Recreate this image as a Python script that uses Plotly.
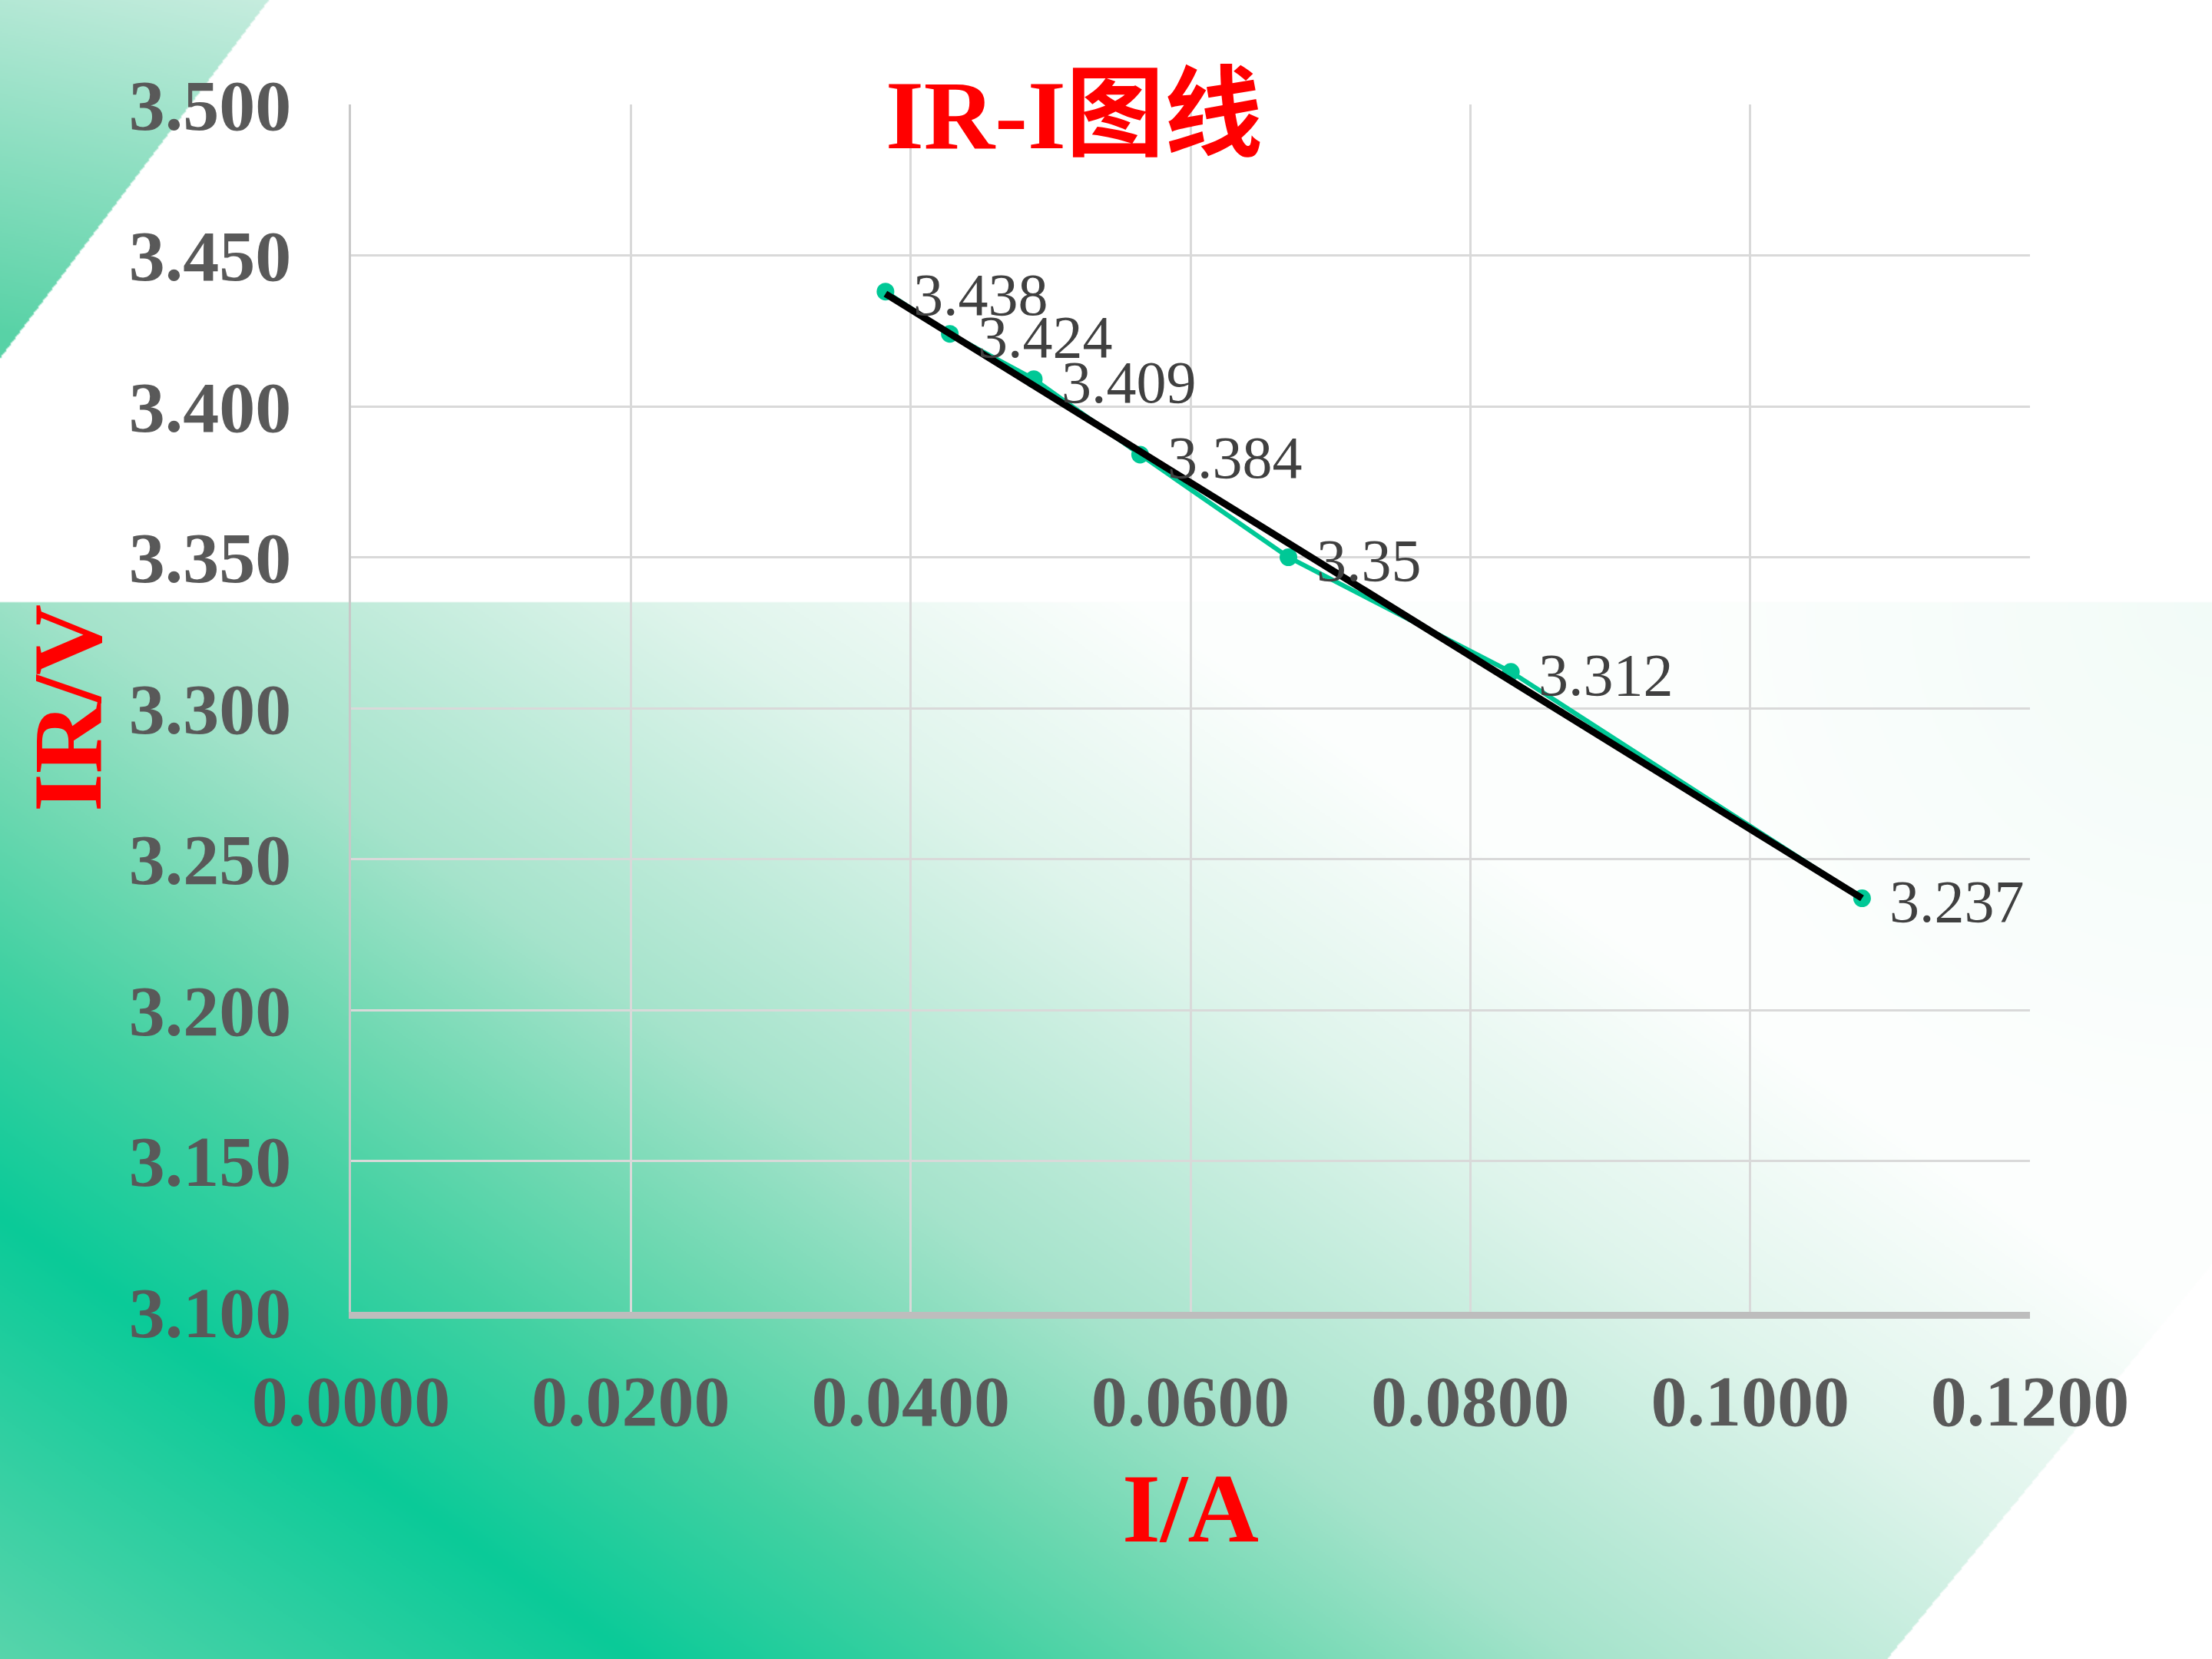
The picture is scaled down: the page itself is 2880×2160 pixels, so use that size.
import numpy as np
import zlib, struct, base64
import plotly.graph_objects as go

# ---------------- data ----------------
current_A = [0.0382, 0.0428, 0.0488, 0.0564, 0.0670, 0.0829, 0.1080]
ir_V = [3.438, 3.424, 3.409, 3.384, 3.35, 3.312, 3.237]
point_labels = ["3.438", "3.424", "3.409", "3.384", "3.35", "3.312", "3.237"]
x_ticks = [0.0, 0.02, 0.04, 0.06, 0.08, 0.10, 0.12]
y_ticks = [3.10, 3.15, 3.20, 3.25, 3.30, 3.35, 3.40, 3.45, 3.50]
title_text = "IR-I图线"
x_title = "I/A"
y_title = "IR/V"

# ---------------- figure geometry ----------------
FW, FH = 2880, 2160
ML, MR, MT, MB = 457, 237, 136, 452
PW, PH = FW - ML - MR, FH - MT - MB

GREEN = "#00C896"

# ---------------- decorative background (gradient shapes) ----------------
def make_background(w=1440, h=1080):
    s = FW / w
    yy, xx = np.mgrid[0:h, 0:w].astype(float)
    X = (xx + 0.5) * s
    Y = (yy + 0.5) * s
    img = np.full((h, w, 3), 255.0)
    # lower band with diagonal gradient
    t = (X * 0.57 - Y * 0.82) + 1300.0
    st = [-700, 0, 270, 460, 700, 1150, 1500]
    sc = [(125, 217, 180), (10, 202, 152), (66, 209, 162), (110, 216, 177),
          (165, 227, 203), (222, 244, 235), (252, 254, 253)]
    band = np.stack([np.interp(t, st, [c[k] for c in sc]) for k in range(3)], axis=-1)
    # faint tint toward the upper-right corner of the band
    d = np.hypot(X - 2880, Y - 784)
    tint = np.clip(1 - d / 700.0, 0, 1) * 0.10
    band = band * (1 - tint[..., None]) + np.array([150, 225, 196.0]) * tint[..., None]
    x_edge = 2880 - (Y - 1645) * (423.0 / 515.0)
    m = (Y >= 784) & (X <= x_edge)
    img[m] = band[m]
    # top-left triangle
    tri = (X / 350.0 + Y / 467.0) <= 1.0
    f = np.clip((Y + 0.25 * (350 - X)) / 520.0, 0, 1)
    top = np.array([198, 236, 222.0])
    bot = np.array([88, 210, 166.0])
    tcol = top[None, None, :] + (bot - top)[None, None, :] * f[..., None]
    img[tri] = tcol[tri]
    arr = np.clip(img + 0.5, 0, 255).astype(np.uint8)
    raw = np.zeros((h, w * 3 + 1), dtype=np.uint8)
    raw[:, 1:] = arr.reshape(h, -1)

    def chunk(tag, data):
        return (struct.pack(">I", len(data)) + tag + data +
                struct.pack(">I", zlib.crc32(tag + data) & 0xFFFFFFFF))
    png = (b"\x89PNG\r\n\x1a\n" +
           chunk(b"IHDR", struct.pack(">IIBBBBB", w, h, 8, 2, 0, 0, 0)) +
           chunk(b"IDAT", zlib.compress(raw.tobytes(), 9)) +
           chunk(b"IEND", b""))
    return "data:image/png;base64," + base64.b64encode(png).decode()

bg = make_background()

# ---------------- traces ----------------
fig = go.Figure()
fig.add_trace(go.Scatter(
    x=current_A, y=ir_V, mode="lines+markers",
    line=dict(color=GREEN, width=6),
    marker=dict(color=GREEN, size=23),
    showlegend=False, hoverinfo="skip"))

slope, intercept = np.polyfit(current_A, ir_V, 1)
tx = [min(current_A), max(current_A)]
ty = [slope * v + intercept for v in tx]
fig.add_trace(go.Scatter(
    x=tx, y=ty, mode="lines",
    line=dict(color="#000000", width=9),
    showlegend=False, hoverinfo="skip"))

annotations = []
for xv, yv, lab in zip(current_A, ir_V, point_labels):
    annotations.append(dict(
        x=xv, y=yv, xref="x", yref="y", text=lab, showarrow=False,
        xanchor="left", yanchor="middle", xshift=34, yshift=-4,
        font=dict(family="Liberation Serif", size=78, color="#404040")))

annotations.append(dict(
    x=(1398 - ML) / PW, y=(FH - MB - 150) / PH, xref="paper", yref="paper",
    text=title_text, showarrow=False, xanchor="center", yanchor="middle",
    font=dict(family="Liberation Serif, Noto Sans CJK SC", size=128,
              color="#FF0000", weight="bold")))
annotations.append(dict(
    x=0.5, y=(FH - MB - 1964) / PH, xref="paper", yref="paper",
    text=x_title, showarrow=False, xanchor="center", yanchor="middle",
    font=dict(family="Liberation Serif", size=128, color="#FF0000", weight="bold")))
annotations.append(dict(
    x=(88 - ML) / PW, y=0.5, xref="paper", yref="paper",
    text=y_title, showarrow=False, xanchor="center", yanchor="middle",
    textangle=-90,
    font=dict(family="Liberation Serif", size=128, color="#FF0000", weight="bold")))

tickfont = dict(family="Liberation Serif", size=94, color="#595959", weight="bold")

fig.update_layout(
    width=FW, height=FH,
    margin=dict(l=ML, r=MR, t=MT, b=MB, pad=0),
    paper_bgcolor="#FFFFFF", plot_bgcolor="rgba(0,0,0,0)",
    annotations=annotations,
    images=[dict(source=bg, xref="paper", yref="paper",
                 x=-ML / PW, y=1 + MT / PH, sizex=FW / PW, sizey=FH / PH,
                 xanchor="left", yanchor="top", sizing="stretch", layer="below")],
    xaxis=dict(range=[0, 0.12], tickvals=x_ticks,
               ticktext=[f"{v:.4f}" for v in x_ticks],
               showgrid=True, gridcolor="#D9D9D9", gridwidth=3,
               showline=True, linecolor="#BDBDBD", linewidth=9,
               zeroline=False, ticks="", ticklabelstandoff=26,
               tickfont=tickfont, fixedrange=True),
    yaxis=dict(range=[3.1, 3.5], tickvals=y_ticks,
               ticktext=[f"{v:.3f}" for v in y_ticks],
               showgrid=True, gridcolor="#D9D9D9", gridwidth=3,
               showline=True, linecolor="#C8C8C8", linewidth=3,
               zeroline=False, ticks="", ticklabelstandoff=56,
               tickfont=tickfont, fixedrange=True),
)

fig.write_html("out.html")
